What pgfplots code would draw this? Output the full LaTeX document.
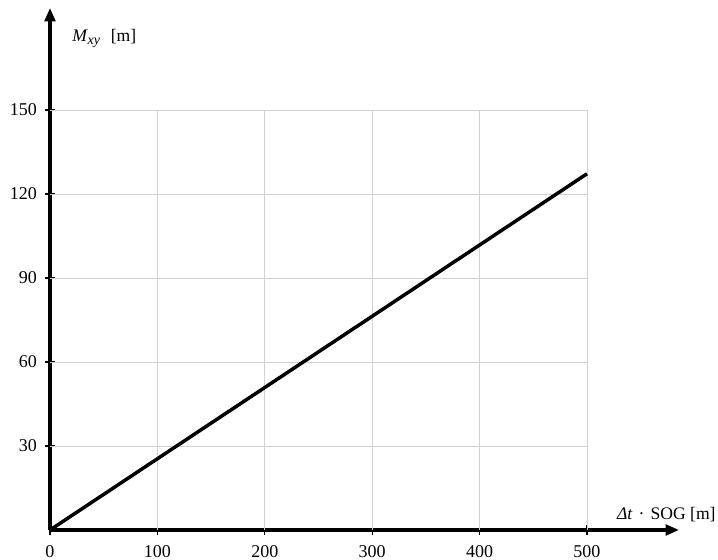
\documentclass[border=0pt]{standalone}
\usepackage{fontspec}
\setmainfont{Liberation Serif}
\usepackage{pgfplots}
\pgfplotsset{compat=1.18}
\usetikzlibrary{arrows.meta}
\definecolor{gridc}{RGB}{210,210,210}
\begin{document}
\fontsize{12.5}{15}\selectfont
\begin{tikzpicture}
\useasboundingbox (-37.5pt,-22.5pt) rectangle (501pt,397.5pt);
\begin{axis}[
  scale only axis,
  width=471.75pt, height=391.5pt,
  xmin=0, xmax=585.7, ymin=0, ymax=186.4,
  axis lines=left,
  axis line style={line width=2.3pt, -{Triangle[length=10pt,width=8pt]}},
  xtick={0,100,200,300,400,500},
  ytick={30,60,90,120,150},
  tick align=center,
  major tick length=7pt,
  tick style={black, line width=1pt},
  /pgf/number format/assume math mode=true,
  ticklabel style={font=\fontsize{13.5}{15}\selectfont},
  xticklabel style={yshift=-3.5pt},
  yticklabel style={xshift=-2pt},
  clip=false,
]
\foreach \xx in {100,200,300,400,500} {
  \edef\tmp{\noexpand\draw[gridc, line width=0.6pt] (axis cs:\xx,0) -- (axis cs:\xx,150);}
  \tmp
}
\foreach \yy in {30,60,90,120,150} {
  \edef\tmp{\noexpand\draw[gridc, line width=0.6pt] (axis cs:0,\yy) -- (axis cs:500,\yy);}
  \tmp
}
\addplot[black, line width=2.6pt] coordinates {(0,0) (500,127.2)};
\node[anchor=base west, inner sep=0pt, font=\fontsize{13.2}{15}\selectfont] at (axis cs:20.5,174.4) {\textit{M}\raisebox{-2.5pt}{\fontsize{10.5}{12}\selectfont\textit{xy}}\hspace{8pt}[m]};
\node[anchor=base east, inner sep=0pt, font=\fontsize{13.2}{15}\selectfont] at (axis cs:620,3.6) {\textit{Δt}\hspace{4.5pt}·\hspace{4.5pt}SOG [m]};
\end{axis}
\end{tikzpicture}
\end{document}
